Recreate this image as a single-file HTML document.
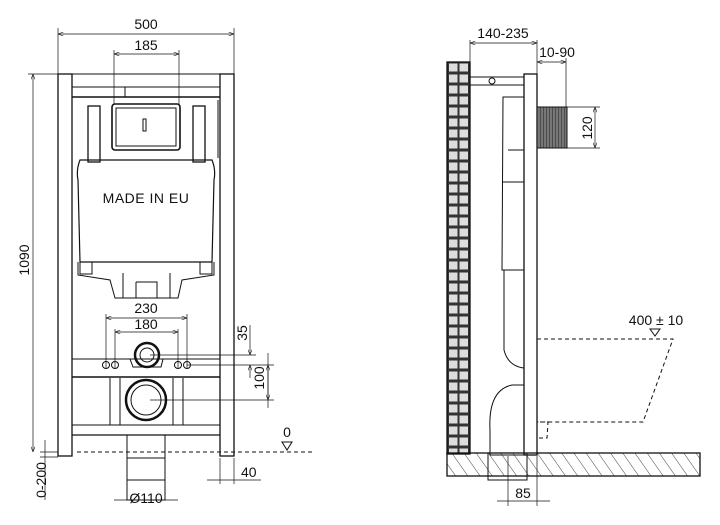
<!DOCTYPE html>
<html><head><meta charset="utf-8"><style>
html,body{margin:0;padding:0;background:#fff;}
svg{display:block;}
text{font-family:"Liberation Sans",Arial,sans-serif;fill:#111;}
</style></head><body>
<svg width="720" height="525" viewBox="0 0 720 525" xmlns="http://www.w3.org/2000/svg">
<defs>
<marker id="a" markerWidth="8" markerHeight="6" refX="8" refY="3" orient="auto-start-reverse"><path d="M0,0 L8,3 L0,6" fill="none" stroke="#111" stroke-width="0.8"/></marker>
<pattern id="h" width="10" height="10" patternUnits="userSpaceOnUse" patternTransform="rotate(-35)"><line x1="0" y1="0" x2="0" y2="10" stroke="#111" stroke-width="0.8"/></pattern>
<pattern id="b" x="447" y="62" width="23" height="11" patternUnits="userSpaceOnUse"><rect width="23" height="11" fill="#333"/><rect x="2" y="1.5" width="8.5" height="8" fill="#ddd"/><rect x="12.5" y="1.5" width="8.5" height="8" fill="#ddd"/></pattern>
<pattern id="v" width="3" height="10" patternUnits="userSpaceOnUse"><rect width="3" height="10" fill="#777"/><line x1="0" y1="0" x2="0" y2="10" stroke="#222" stroke-width="1"/></pattern>
</defs>
<g stroke="#111" fill="none" stroke-width="1">
<line x1="58" y1="28" x2="58" y2="74" stroke-width="0.7"/><line x1="234" y1="28" x2="234" y2="74" stroke-width="0.7"/>
<line x1="58" y1="34" x2="234" y2="34" stroke-width="0.7" marker-start="url(#a)" marker-end="url(#a)"/>
<line x1="114" y1="50" x2="114" y2="104" stroke-width="0.7"/><line x1="179" y1="50" x2="179" y2="104" stroke-width="0.7"/>
<line x1="114" y1="54" x2="179" y2="54" stroke-width="0.7" marker-start="url(#a)" marker-end="url(#a)"/>
<line x1="28" y1="74" x2="58" y2="74" stroke-width="0.7"/>
<line x1="33" y1="74" x2="33" y2="452" stroke-width="0.7" marker-start="url(#a)" marker-end="url(#a)"/>
<rect x="58" y="74" width="14" height="382" stroke-width="1.3"/>
<rect x="220" y="74" width="14" height="382" stroke-width="1.3"/>
<line x1="72" y1="74" x2="220" y2="74"/>
<line x1="72" y1="87" x2="220" y2="87"/>
<line x1="72" y1="97" x2="220" y2="97" stroke-width="1.5"/>
<line x1="125" y1="87" x2="125" y2="97"/>
<rect x="112" y="104" width="68" height="46" rx="3" stroke-width="1.6"/>
<rect x="116" y="108" width="60" height="38"/>
<rect x="143" y="119" width="3" height="12"/>
<rect x="88" y="106" width="12" height="56" stroke-width="1.3"/>
<rect x="193" y="106" width="12" height="56" stroke-width="1.3"/>
<line x1="72" y1="100" x2="72" y2="158"/><line x1="218" y1="100" x2="218" y2="158"/>
<path d="M80,160 Q76,170 78,180 L80,262 L212,262 L214,180 Q216,170 212,160 Z" stroke-width="1.2"/>
<path d="M78,262 L78,275 L110,280 L115,298 L178,298 L182,280 L214,275 L214,262"/>
<path d="M123,273 L123,298 M170,273 L170,298 M136,282 L157,282 L157,298 M136,282 L136,298"/>
<rect x="80" y="262" width="12" height="12"/><rect x="200" y="262" width="12" height="12"/>
<line x1="106" y1="314" x2="106" y2="368" stroke-width="0.7"/><line x1="187" y1="314" x2="187" y2="368" stroke-width="0.7"/>
<line x1="106" y1="318" x2="187" y2="318" stroke-width="0.7" marker-start="url(#a)" marker-end="url(#a)"/>
<line x1="115" y1="329" x2="115" y2="368" stroke-width="0.7"/><line x1="178" y1="329" x2="178" y2="368" stroke-width="0.7"/>
<line x1="115" y1="332" x2="178" y2="332" stroke-width="0.7" marker-start="url(#a)" marker-end="url(#a)"/>
<line x1="72" y1="359" x2="220" y2="359"/><line x1="72" y1="377" x2="220" y2="377" stroke-width="1.5"/>
<path d="M130,359 L133,367 L161,367 L163,359"/>
<circle cx="147" cy="355" r="12" stroke-width="2.5"/><circle cx="147" cy="355" r="7"/>
<circle cx="106" cy="365" r="3.5"/><circle cx="115" cy="365" r="3.5"/><circle cx="178" cy="365" r="3.5"/><circle cx="187" cy="365" r="3.5"/>
<line x1="110" y1="378" x2="110" y2="425"/><line x1="120" y1="378" x2="120" y2="425"/>
<line x1="173" y1="378" x2="173" y2="425"/><line x1="183" y1="378" x2="183" y2="425"/>
<circle cx="146" cy="400" r="20" stroke-width="2.5"/><circle cx="146" cy="400" r="15"/>
<line x1="72" y1="425" x2="220" y2="425"/><line x1="72" y1="435" x2="220" y2="435" stroke-width="1.3"/>
<rect x="127" y="435" width="38" height="65"/><line x1="127" y1="458" x2="165" y2="458"/><line x1="127" y1="480" x2="165" y2="480"/>
<line x1="150" y1="355" x2="256" y2="355" stroke-width="0.7"/><line x1="187" y1="365" x2="274" y2="365" stroke-width="0.7"/>
<line x1="150" y1="400" x2="274" y2="400" stroke-width="0.7"/>
<line x1="250" y1="325" x2="250" y2="355" stroke-width="0.7" marker-end="url(#a)"/>
<line x1="250" y1="365" x2="250" y2="378" stroke-width="0.7" marker-start="url(#a)"/>
<line x1="268" y1="353" x2="268" y2="408" stroke-width="0.7"/>
<line x1="268" y1="365" x2="268" y2="400" stroke-width="0.7" marker-start="url(#a)" marker-end="url(#a)"/>
<line x1="77" y1="452" x2="312" y2="452" stroke-dasharray="4,3"/>
<path d="M282,442 L292,442 L287,450 Z"/>
<line x1="220" y1="458" x2="220" y2="484" stroke-width="0.7"/><line x1="234" y1="458" x2="234" y2="484" stroke-width="0.7"/>
<line x1="207" y1="480" x2="261" y2="480" stroke-width="0.7"/>
<line x1="45" y1="440" x2="45" y2="500" stroke-width="0.7"/><line x1="40" y1="452" x2="58" y2="452" stroke-width="0.7"/><line x1="40" y1="457" x2="58" y2="457" stroke-width="0.7"/>
<line x1="114" y1="500" x2="178" y2="500" stroke-width="0.7"/>
<rect x="447" y="62" width="23" height="392" fill="url(#b)" stroke-width="1.3"/>
<rect x="447" y="453" width="253" height="23" fill="url(#h)" stroke-width="1.3"/>
<line x1="470" y1="40" x2="470" y2="62" stroke-width="0.7"/><line x1="537" y1="40" x2="537" y2="74" stroke-width="0.7"/>
<line x1="470" y1="43" x2="537" y2="43" stroke-width="0.7" marker-start="url(#a)" marker-end="url(#a)"/>
<line x1="537" y1="62" x2="566" y2="62" stroke-width="0.7" marker-start="url(#a)" marker-end="url(#a)"/>
<line x1="566" y1="58" x2="566" y2="107" stroke-width="0.7"/>
<rect x="524" y="74" width="13" height="381" stroke-width="1.3"/>
<rect x="470" y="77" width="54" height="8"/><circle cx="492" cy="81" r="3"/>
<rect x="537" y="107" width="30" height="41" fill="url(#v)"/>
<line x1="567" y1="107" x2="600" y2="107" stroke-width="0.7"/><line x1="567" y1="148" x2="600" y2="148" stroke-width="0.7"/>
<line x1="595" y1="107" x2="595" y2="148" stroke-width="0.7" marker-start="url(#a)" marker-end="url(#a)"/>
<path d="M524,97 L503,97 L502,270 L524,270"/><path d="M503,182 L524,182 M508,150 L524,150 L524,182"/>
<path d="M504,270 L504,350 Q508,366 524,368"/>
<path d="M524,385 L512,385 Q488,390 490,430 L490,455 L524,455"/>
<path d="M488,453 L488,480 L527,480 L527,453"/>
<line x1="508" y1="456" x2="508" y2="506" stroke-width="0.7"/><line x1="537" y1="456" x2="537" y2="506" stroke-width="0.7"/>
<line x1="497" y1="501" x2="550" y2="501" stroke-width="0.7"/>
<path d="M537,339 L673,339 L643,422 L537,422 M540,422 L548,422 L547,438 L538,438" stroke-dasharray="4,3"/>
<path d="M650,329 L660,329 L655,336 Z"/>
</g>
<g font-size="14">
<text x="146" y="29" text-anchor="middle">500</text>
<text x="146" y="50" text-anchor="middle">185</text>
<text x="146" y="313" text-anchor="middle">230</text>
<text x="146" y="329" text-anchor="middle">180</text>
<text x="146" y="503" text-anchor="middle">Ø110</text>
<text x="241" y="477">40</text>
<text x="287" y="437" text-anchor="middle">0</text>
<text x="503" y="38" text-anchor="middle">140-235</text>
<text x="557" y="57" text-anchor="middle">10-90</text>
<text x="656" y="325" text-anchor="middle">400 ± 10</text>
<text x="523" y="498" text-anchor="middle">85</text>
<text transform="translate(29,260) rotate(-90)" text-anchor="middle">1090</text>
<text transform="translate(46,480) rotate(-90)" text-anchor="middle">0-200</text>
<text transform="translate(247,333) rotate(-90)" text-anchor="middle">35</text>
<text transform="translate(264,378) rotate(-90)" text-anchor="middle">100</text>
<text transform="translate(592,128) rotate(-90)" text-anchor="middle">120</text>
</g>
<text x="146" y="203" text-anchor="middle" font-size="14" fill="#333" letter-spacing="0.5">MADE IN EU</text>
</svg>
</body></html>
